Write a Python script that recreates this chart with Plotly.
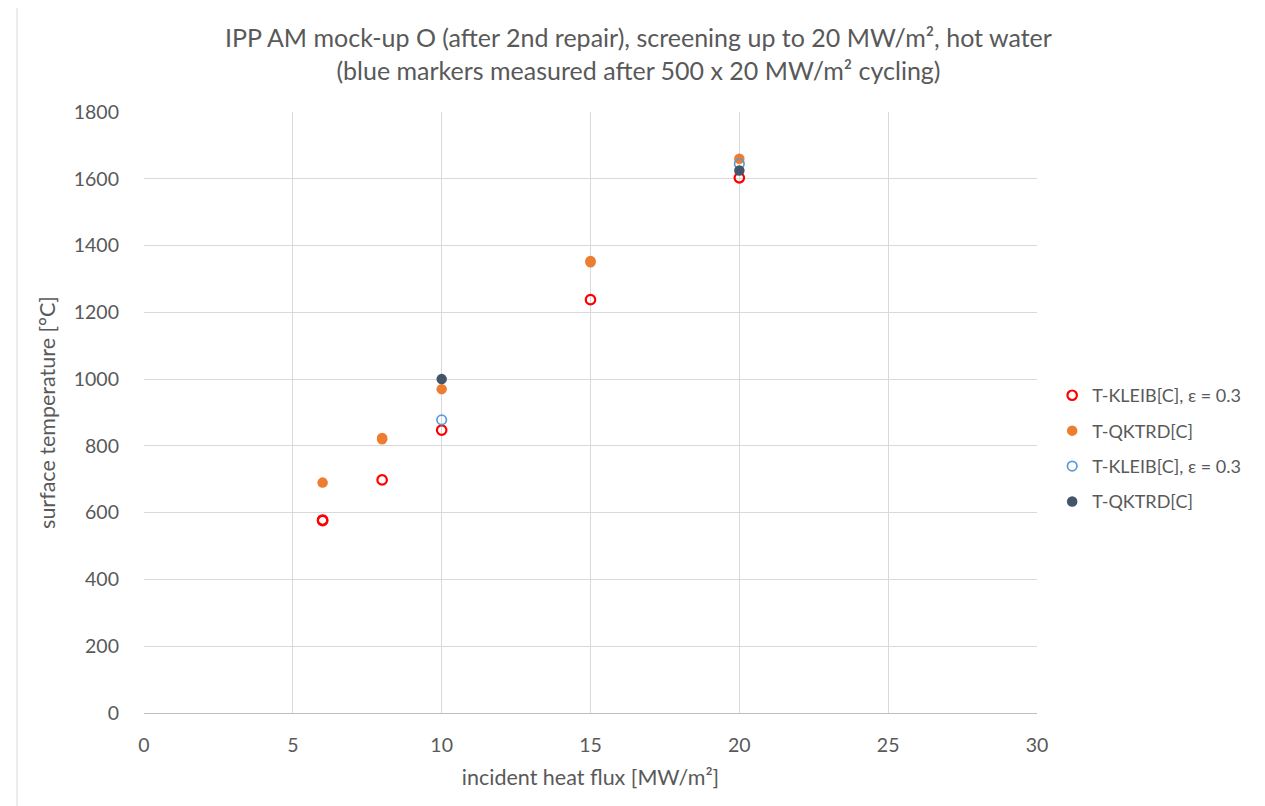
import plotly.graph_objects as go

# Data
kleib_x = [6, 6, 8, 10, 15, 20]
kleib_y = [578, 576, 698, 847, 1238, 1603]
qktrd_x = [6, 8, 8, 10, 15, 15, 20]
qktrd_y = [690, 824, 820, 970, 1354, 1350, 1660]
kleib2_x = [10, 20]
kleib2_y = [878, 1645]
qktrd2_x = [10, 20]
qktrd2_y = [1000, 1625]

names = ["T-KLEIB[C], \u03b5 = 0.3", "T-QKTRD[C]", "T-KLEIB[C], \u03b5 = 0.3", "T-QKTRD[C]"]
x_ticks = [0, 5, 10, 15, 20, 25, 30]
y_ticks = [0, 200, 400, 600, 800, 1000, 1200, 1400, 1600, 1800]

FONT = "Lato, 'Open Sans', sans-serif"
GREY = "#595959"

fig = go.Figure()
fig.add_trace(go.Scatter(x=kleib_x, y=kleib_y, mode="markers", name=names[0], legendgroup="a",
                         marker=dict(symbol="circle-open", size=9.5, color="#FF0000",
                                     line=dict(width=2.2, color="#FF0000"))))
fig.add_trace(go.Scatter(x=qktrd_x, y=qktrd_y, mode="markers", name=names[1], legendgroup="b",
                         marker=dict(symbol="circle", size=10.5, color="#ED7D31")))
fig.add_trace(go.Scatter(x=kleib2_x, y=kleib2_y, mode="markers", name=names[2], legendgroup="c",
                         marker=dict(symbol="circle-open", size=9.5, color="#5B9BD5",
                                     line=dict(width=1.7, color="#5B9BD5"))))
fig.add_trace(go.Scatter(x=qktrd2_x, y=qktrd2_y, mode="markers", name=names[3], legendgroup="d",
                         marker=dict(symbol="circle", size=10.5, color="#44546A")))

fig.update_layout(
    width=1265, height=806,
    paper_bgcolor="white", plot_bgcolor="white",
    margin=dict(l=136, r=236, t=104, b=101),
    font=dict(family=FONT, color=GREY),
    title=dict(text="IPP AM mock-up O (after 2nd repair), screening up to 20 MW/m\u00b2, hot water<br>(blue markers measured after 500 x 20 MW/m\u00b2 cycling)",
               x=0.4984, xanchor="center", y=0.9516, yanchor="top",
               font=dict(size=25, color=GREY, family=FONT)),
    xaxis=dict(range=[0, 30], tickvals=x_ticks, showgrid=True, gridcolor="#D9D9D9", gridwidth=1,
               zeroline=False, showline=True, linecolor="#BFBFBF", linewidth=1,
               ticks="", tickfont=dict(size=19.5, color=GREY), ticklabelstandoff=15,
               title=dict(text="incident heat flux [MW/m\u00b2]", font=dict(size=21.5, color=GREY), standoff=14)),
    yaxis=dict(range=[0, 1800], tickvals=y_ticks, showgrid=True, gridcolor="#D9D9D9", gridwidth=1,
               zeroline=False, showline=False, ticks="", tickfont=dict(size=19.5, color=GREY),
               ticklabelstandoff=24,
               title=dict(text="surface temperature [\u00b0C]", font=dict(size=21.5, color=GREY), standoff=12)),
    legend=dict(x=1.017, xanchor="left", y=0.44, yanchor="middle",
                font=dict(size=18, color=GREY, family=FONT), bgcolor="rgba(0,0,0,0)",
                itemwidth=30, tracegroupgap=9),
    showlegend=True,
)

# chart frame
fig.add_shape(type="rect", xref="paper", yref="paper",
              x0=(16 - 143) / 893, x1=(1257 - 143) / 893,
              y0=(712 - 815) / 601, y1=(712 - 5) / 601,
              line=dict(color="#D9D9D9", width=1), fillcolor="rgba(0,0,0,0)", layer="below")

fig.write_html("out.html")
